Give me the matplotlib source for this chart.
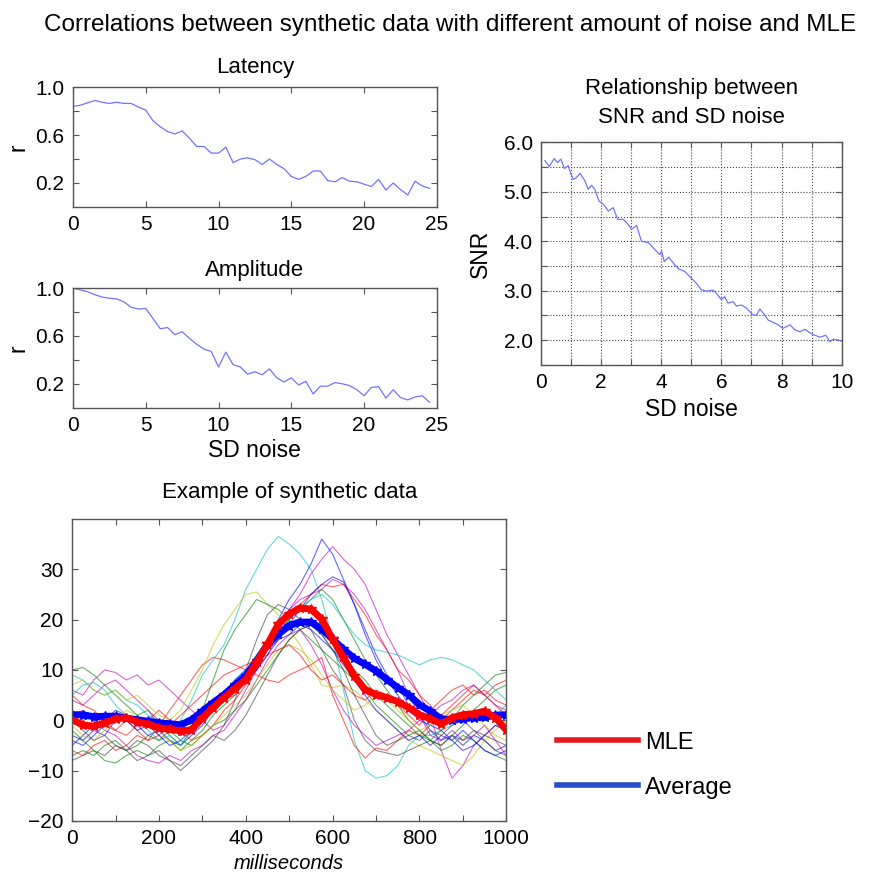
import numpy as np
import matplotlib
matplotlib.use("Agg")
import matplotlib.pyplot as plt
from matplotlib.lines import Line2D

plt.rcParams['font.family'] = ['Liberation Sans', 'DejaVu Sans']

# --- correlations vs SD noise ---
sd_corr = np.arange(0, 25, 0.5)
r_latency = [0.84, 0.85, 0.87, 0.89, 0.875, 0.865, 0.875, 0.865, 0.865, 0.835,
             0.81, 0.72, 0.67, 0.63, 0.61, 0.635, 0.575, 0.505, 0.505, 0.45,
             0.45, 0.50, 0.37, 0.40, 0.41, 0.395, 0.355, 0.40, 0.355, 0.32,
             0.255, 0.23, 0.255, 0.30, 0.30, 0.22, 0.21, 0.245, 0.215, 0.21,
             0.19, 0.17, 0.23, 0.14, 0.20, 0.145, 0.10, 0.215, 0.175, 0.155]
r_amplitude = [1.0, 0.985, 0.97, 0.945, 0.925, 0.915, 0.91, 0.885, 0.84, 0.825,
               0.83, 0.745, 0.66, 0.67, 0.61, 0.635, 0.58, 0.53, 0.49, 0.47,
               0.34, 0.465, 0.36, 0.34, 0.28, 0.30, 0.275, 0.325, 0.25, 0.215,
               0.25, 0.19, 0.22, 0.115, 0.18, 0.18, 0.21, 0.20, 0.185, 0.15,
               0.10, 0.17, 0.175, 0.08, 0.15, 0.085, 0.065, 0.09, 0.10, 0.045]

# --- SNR vs SD noise ---
sd_snr = [0.13, 0.27, 0.44, 0.55, 0.66, 0.78, 0.91, 0.96, 1.07, 1.18, 1.30, 1.46,
          1.57, 1.68, 1.79, 1.93, 2.07, 2.24, 2.40, 2.55, 2.74, 2.90, 3.01, 3.18,
          3.34, 3.57, 3.79, 3.95, 4.01, 4.10, 4.25, 4.40, 4.58, 4.78, 4.94, 5.17,
          5.33, 5.50, 5.72, 5.83, 6.00, 6.11, 6.22, 6.39, 6.50, 6.67, 6.83, 7.05,
          7.17, 7.28, 7.44, 7.55, 7.72, 7.89, 8.05, 8.28, 8.44, 8.61, 8.78, 8.94,
          9.11, 9.28, 9.47, 9.61, 9.72, 9.89, 10.0]
snr = [5.63, 5.51, 5.67, 5.59, 5.66, 5.47, 5.53, 5.42, 5.25, 5.29, 5.37, 5.22,
       5.05, 5.13, 5.05, 4.81, 4.75, 4.61, 4.68, 4.44, 4.44, 4.34, 4.24, 4.32,
       4.00, 3.97, 3.83, 3.73, 3.80, 3.59, 3.68, 3.56, 3.44, 3.39, 3.29, 3.15,
       3.02, 2.99, 3.01, 2.95, 2.82, 2.88, 2.75, 2.78, 2.69, 2.71, 2.65, 2.51,
       2.51, 2.63, 2.51, 2.41, 2.36, 2.31, 2.24, 2.31, 2.21, 2.17, 2.22, 2.15,
       2.10, 2.06, 2.10, 1.97, 2.02, 2.00, 1.98]

# --- synthetic data example (every 25 ms) ---
ms = np.arange(0, 1001, 25)
mle = [0.1, -0.9, -1.2, -0.5, 0.3, 0.5, -0.3, -0.8, -1.5, -1.8, -2.1, -1.9, 0.5,
       2.5, 4.5, 6.3, 8.1, 11.5, 15.1, 19.1, 21.1, 22.3, 22.1, 20.1, 16.1, 12.5,
       8.8, 6.1, 5.1, 4.5, 3.7, 2.5, 1.1, 0.3, -0.7, 0.5, 1.1, 1.3, 1.8, 0.5, -1.9]
average = [1.1, 1.1, 0.7, 0.8, 0.8, 0.4, 0.1, -0.2, -0.5, -0.7, -0.9, 0.1, 1.8,
           3.5, 5.1, 7.0, 8.8, 11.8, 15.1, 17.1, 18.8, 19.5, 19.5, 18.1, 16.1,
           14.1, 12.3, 11.1, 9.8, 8.1, 6.5, 5.1, 3.1, 1.8, 0.3, 0.1, 0.3, 0.5,
           0.6, 1.0, 1.1]

trials = [
    [9, 8, 6, 5, 6, 4, 3, 1, 0, -2, 0, 4, 9, 12, 15, 20, 26, 30, 34, 36.5, 35,
     33, 30, 24, 16, 6, -4, -10, -11.5, -11, -9, -5, -3, -3, -2, -1, 1, 0, 2, 1, 3],
    [-3, -4, -2, -3, 0, 1, -1, -3, -2, -4, -5, -3, -1, 2, 4, 6, 8, 12, 16, 20, 24,
     27, 31, 36, 33, 28, 23, 18, 13, 9, 7, 3, 1, -2, -4, -3, -5, -3, -4, -6, -5],
    [4, 3, 5, 7, 8, 6, 4, 2, 0, -1, -3, -2, 0, 2, 4, 5, 8, 10, 13, 17, 22, 25, 29,
     32, 34.5, 32, 30, 27, 22, 17, 13, 9, 5, 1, -6, -11.5, -9, -5, -3, -1, -2],
    [6, 5, 8, 10, 9.5, 8, 9, 7, 8, 6, 4, 2, 0, -2, -1, 2, 6, 10, 15, 19, 22, 24,
     25, 26, 28, 27, 25, 22, 18, 14, 10, 5, 1, -3, -4, -2, -4, -3, -1, -4, -7],
    [5, 3, 2, 0, -2, -3, -1, 0, 2, 0, -2, -4, -3, -1, 2, 4, 7, 10, 14, 17, 20, 23,
     25, 27, 26.5, 27, 24, 21, 17, 14, 10, 8, 5, 3, 0, 2, 4, 6, 5, 7, 8],
    [-6, -7, -5, -4, -6, -5, -3, -4, -1, 2, 5, 8, 11, 12.5, 12, 11, 10, 9, 8, 7.5,
     9, 10, 11, 12.5, 5, 0, -5, -7.5, -5.5, -6, -4, -2, -3, -1, 1, 3, 5, 7, 5, 3, 1],
    [7, 8, 6, 5, 6, 4, 5, 3, 1, 0, 2, 6, 10, 15, 19, 22, 25, 25.5, 23, 21, 18, 15,
     11, 7, 6.5, 7, 6, 4, 2, 0, -2, -4, -5, -6, -7, -8, -9, -7, -4, -2, 0],
    [10, 10.5, 9, 7, 5, 3, 1, 2, -1, -3, -5, -2, 2, 8, 14, 18, 21, 24, 23, 22, 20,
     18, 16, 14, 12, 10, 8, 6, 3, 1, -1, -3, -2, -4, -5, -3, -1, 2, 4, 6, 7],
    [-8, -7, -6, -7, -5, -6, -4, -5, -7, -8, -10, -8, -6, -4, -1, 4, 10, 16, 21, 23,
     22, 20, 18, 14, 10, 7, 0, -4, -6, -6.5, -7, -6, -5, -4, -5, -3, -4, -2, -3, -4, -5],
    [-2, -4, -6, -8, -8.5, -7, -6, -7, -5, -4, -6, -4, -2, 1, 3, 5, 8, 11, 14, 17,
     20, 22, 24, 26, 24, 20, 16, 12, 9, 6, 3, 0, -2, -4, -6, -5, -3, -4, -6, -7, -8],
    [-5, -3, -1, 0, 2, 1, -1, 0, -2, -1, -3, -1, 1, 3, 5, 6, 8, 10, 13, 16, 19, 22,
     25, 27, 28.5, 27.5, 23, 17, 12, 8, 5, 2, 0, -1, -2, -4, -6, -5, -3, -1, -2],
    [5, 7, 7.5, 6, 3, 1, 0, -2, -4, -3, -5, -2, 0, 2, 5, 8, 10, 13, 15, 18, 20, 22,
     24, 25, 23, 20, 17, 15, 14, 13.5, 13, 12, 11, 12, 12.5, 12, 11, 10, 8, 6, 4],
    [-7, -6, -7, -5, -4, -6, -5, -3, -4, -2, -4, -5, -3, -1, 0, 2, 4, 7, 10, 13, 16,
     18, 19, 17, 14, 12, 10, 8, 5, 3, 1, -1, -3, -4, -2, 0, 3, 5, 7, 9, 9.5],
    [1, 2, 0, -2, -3, -5, -7, -8, -8.5, -7, -8, -6, -5, -3, -2, 1, 4, 8, 12, 15, 17,
     18, 15, 11, 6, 2, -1, -3, -5, -4, -3, -2, 0, 1, 3, 4, 6, 7, 5, 3, 2],
    [-1, -3, -4, -2, 0, 2, 1, -1, -3, -4, -6, -5, -3, -1, 1, 3, 5, 8, 11, 14, 15,
     14, 12, 9, 6, 4, 2, 3, 5, 4, 2, 0, -2, -1, 1, 2, 3, 1, -1, -3, -4],
    [0, -2, -4, -3, -5, -6, -8, -7, -6, -8, -9, -7, -5, -3, -4, -2, 1, 5, 9, 13, 16,
     18, 19, 17, 14, 10, 5, 1, -3, -5, -4, -3, -4, -2, -3, -1, 0, -2, -4, -6, -7],
    [2, 0, 1, -1, -2, 0, -2, -4, -3, -1, 1, 3, 5, 7, 9, 10, 11, 12, 13, 14, 15, 13,
     10, 8, 9, 7, 5, 4, 6, 5, 3, 1, -1, 2, 4, 6, 7, 5, 6, 4, 3],
    [-4, -5, -3, -1, 1, 0, -2, -1, -3, -5, -4, -2, 0, 3, 5, 8, 10, 12, 14, 16, 17,
     19, 18, 16, 14, 11, 8, 5, 2, 0, -2, -4, -3, -5, -3, -4, -2, -4, -6, -7, -6],
]
trial_colors = ['c', 'b', 'm', 'm', 'r', 'r', 'y', 'g', 'k', 'g', 'b', 'c', 'g',
                'm', 'y', 'k', 'r', 'b']

matlab = {'b': (0, 0, 1), 'g': (0, 0.5, 0), 'r': (1, 0, 0), 'c': (0, 0.75, 0.75),
          'm': (0.75, 0, 0.75), 'y': (0.75, 0.75, 0), 'k': (0.25, 0.25, 0.25)}
light_blue = (0.45, 0.45, 1.0)
tick_fs = 15
title_fs = 16
label_fs = 16.5


def style_axes(ax):
    ax.tick_params(direction='in', top=True, right=True, labelsize=tick_fs,
                   length=4, color='#555555', pad=6)
    for s in ax.spines.values():
        s.set_color('#555555')
        s.set_linewidth(1.0)


fig = plt.figure(figsize=(8.79, 8.73), dpi=100)
fig.suptitle("Correlations between synthetic data with different amount of noise and MLE",
             fontsize=17.5, x=0.512, y=0.984)

r_ticks = [0.2, 0.4, 0.6, 0.8, 1.0]
r_labels = ['0.2', '', '0.6', '', '1.0']

# Latency
ax1 = fig.add_axes([0.083, 0.763, 0.414, 0.137])
ax1.plot(sd_corr, r_latency, color=light_blue, lw=0.9)
ax1.set_xlim(0, 25)
ax1.set_ylim(0, 1)
ax1.set_xticks(range(0, 26, 5))
ax1.set_yticks(r_ticks)
ax1.set_yticklabels(r_labels)
ax1.set_ylabel('r', fontsize=label_fs, labelpad=4)
ax1.set_title('Latency', fontsize=title_fs, pad=10)
style_axes(ax1)

# Amplitude
ax2 = fig.add_axes([0.083, 0.533, 0.414, 0.137])
ax2.plot(sd_corr, r_amplitude, color=light_blue, lw=0.9)
ax2.set_xlim(0, 25)
ax2.set_ylim(0, 1)
ax2.set_xticks(range(0, 26, 5))
ax2.set_yticks(r_ticks)
ax2.set_yticklabels(r_labels)
ax2.set_ylabel('r', fontsize=label_fs, labelpad=4)
ax2.set_xlabel('SD noise', fontsize=label_fs, labelpad=3)
ax2.set_title('Amplitude', fontsize=title_fs, pad=8.5)
style_axes(ax2)

# SNR
ax3 = fig.add_axes([0.6155, 0.582, 0.342, 0.255])
ax3.plot(sd_snr, snr, color=light_blue, lw=0.9)
ax3.set_xlim(0, 10)
ax3.set_ylim(1.5, 6)
ax3.set_xticks(range(0, 11))
ax3.set_xticklabels([str(v) if v % 2 == 0 else '' for v in range(0, 11)])
yt = np.arange(1.5, 6.01, 0.5)
ax3.set_yticks(yt)
ax3.set_yticklabels(['%.1f' % v if v >= 2 and v % 1 == 0 else '' for v in yt])
ax3.grid(True, linestyle=':', color='#444444', lw=0.8)
ax3.set_ylabel('SNR', fontsize=label_fs, labelpad=8)
ax3.set_xlabel('SD noise', fontsize=label_fs, labelpad=4)
ax3.set_title('Relationship between\nSNR and SD noise', fontsize=title_fs, pad=14,
              linespacing=1.5)
style_axes(ax3)

# Example of synthetic data
ax4 = fig.add_axes([0.082, 0.0596, 0.494, 0.346])
for tr, c in zip(trials, trial_colors):
    ax4.plot(ms, tr, color=matlab[c], lw=0.8, alpha=0.6)
ax4.plot(ms, average, color='blue', lw=5, marker='*', ms=7, mew=1)
ax4.plot(ms, mle, color='red', lw=5, marker='*', ms=7, mew=1)
ax4.set_xlim(0, 1000)
ax4.set_ylim(-20, 40)
ax4.set_xticks(range(0, 1001, 100))
ax4.set_xticklabels([str(v) if v % 200 == 0 else '' for v in range(0, 1001, 100)])
ax4.set_yticks(range(-20, 31, 10))
ax4.set_xlabel('milliseconds', fontsize=14.5, style='italic', labelpad=4)
ax4.set_title('Example of synthetic data', fontsize=title_fs, pad=15)
style_axes(ax4)

handles = [Line2D([], [], color=(0.9, 0.1, 0.1), lw=4),
           Line2D([], [], color=(0.15, 0.3, 0.8), lw=4)]
fig.legend(handles, ['MLE', 'Average'], loc='center left',
           bbox_to_anchor=(0.61, 0.1235), frameon=False, fontsize=17,
           handlelength=3.4, labelspacing=0.98, handletextpad=0.3)

fig.savefig('out.png', dpi=100)
